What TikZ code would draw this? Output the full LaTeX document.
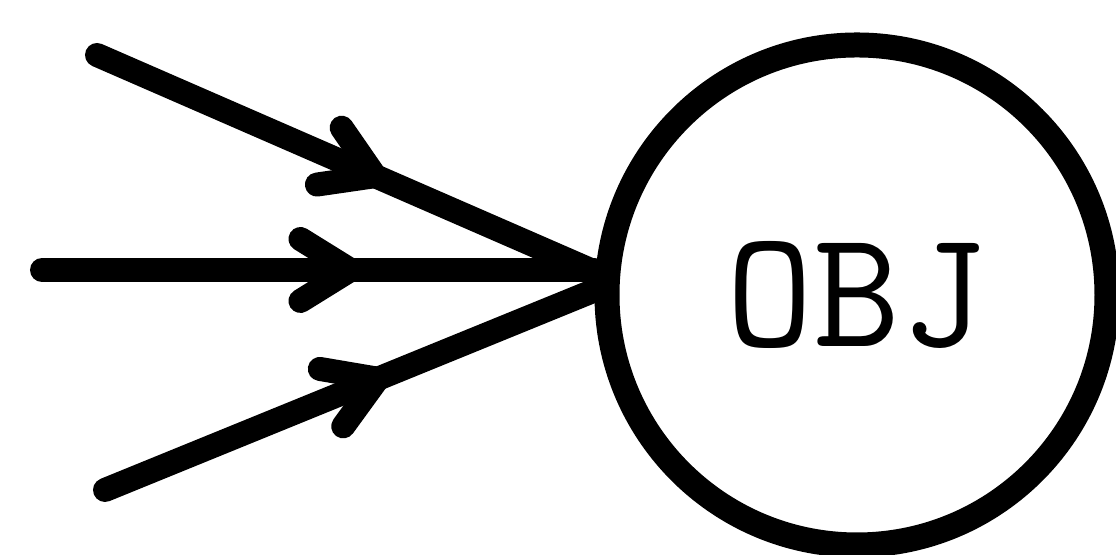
\documentclass[tikz,border=0pt]{standalone}
\usepackage{fontspec}
\usetikzlibrary{arrows.meta, decorations.markings}
\tikzset{
  objnode/.style={
    circle, draw, line width=0.25cm, minimum size=5.0cm, inner sep=0pt,
    font=\ttfamily\fontsize{48}{52}\selectfont
  },
  feedarrow/.style={
    line width=0.24cm, line cap=round, postaction={decorate},
    decoration={markings, mark=at position 0.58 with
      {\arrow{Straight Barb[length=0.5cm, width=0.62cm, round]}}}
  }
}
\begin{document}
\begin{tikzpicture}
\useasboundingbox (0,0) rectangle (11.16,5.55);

% ── Object and its three inputs ─────────────────────────────
\node[objnode] (obj) at (8.57,2.60) {OBJ};

\coordinate (intop) at (0.97,5.00);
\coordinate (inmid) at (0.42,2.85);
\coordinate (inbot) at (1.05,0.65);

\draw[feedarrow] (intop) -- (obj.175);
\draw[feedarrow] (inmid) -- (inmid -| obj.west);
\draw[feedarrow] (inbot) -- (obj.179);

\end{tikzpicture}
\end{document}
